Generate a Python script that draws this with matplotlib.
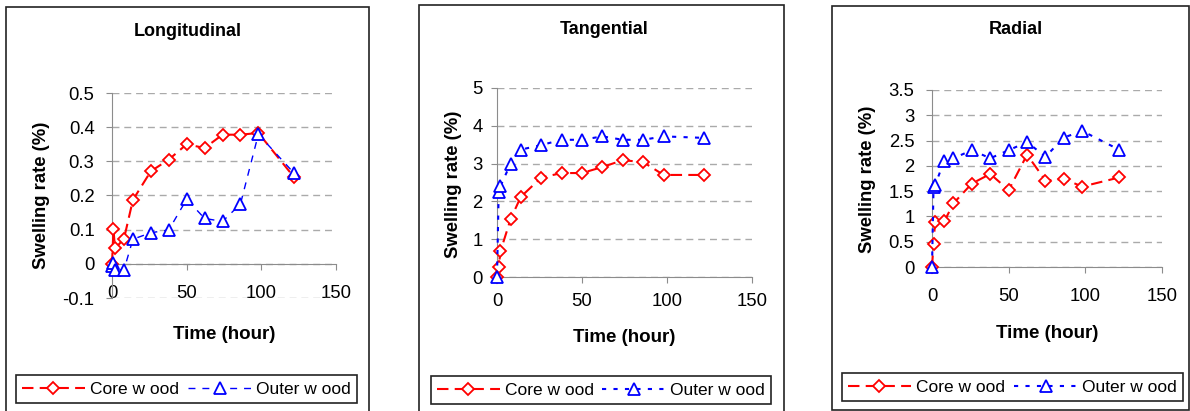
import numpy as np
import matplotlib.pyplot as plt
from matplotlib.patches import Rectangle
from matplotlib.lines import Line2D

plt.rcParams['font.family'] = ['Liberation Sans', 'DejaVu Sans']

# sampling times (hours)
hours = [0, 1, 2, 8, 14, 26, 38, 50, 62, 74, 86, 98, 122]

# swelling rate (%)
long_core = [0, 0.101, 0.045, 0.073, 0.187, 0.271, 0.305, 0.350, 0.339, 0.378, 0.378, 0.383, 0.253]
long_outer = [-0.005, 0.002, -0.018, -0.018, 0.072, 0.091, 0.099, 0.189, 0.133, 0.124, 0.175, 0.379, 0.265]
tang_core = [0, 0.26, 0.675, 1.53, 2.12, 2.63, 2.75, 2.75, 2.91, 3.09, 3.04, 2.70, 2.70]
tang_outer = [0, 2.25, 2.40, 3.00, 3.37, 3.49, 3.63, 3.63, 3.72, 3.63, 3.63, 3.72, 3.68]
rad_core = [0, 0.46, 0.88, 0.90, 1.26, 1.65, 1.84, 1.52, 2.22, 1.71, 1.74, 1.59, 1.77]
rad_outer = [0, 1.58, 1.62, 2.10, 2.15, 2.31, 2.15, 2.31, 2.47, 2.18, 2.56, 2.69, 2.32]

titles = ['Longitudinal', 'Tangential', 'Radial']
series_names = ['Core w ood', 'Outer w ood']
xticks = [0, 50, 100, 150]
yticks_long = [-0.1, 0, 0.1, 0.2, 0.3, 0.4, 0.5]
yticks_tang = [0, 1, 2, 3, 4, 5]
yticks_rad = [0, 0.5, 1, 1.5, 2, 2.5, 3, 3.5]

W, H = 1190, 411
fig = plt.figure(figsize=(W / 100, H / 100), dpi=100)


def rect(l, t, r, b):
    return [l / W, 1 - b / H, (r - l) / W, (b - t) / H]


panels = [
    dict(core=long_core, outer=long_outer, yt=yticks_long, ax=(112, 93, 336, 298),
         frame=(6, 7, 369, 420), title=(188, 32), xlab=(224, 334), ylab=(42, 195),
         leg=(16, 372, 357, 406), outer_ls=(0, (5, 5)), outer_lw=1.0,
         xpad=11, ypad=8.6, zero=True),
    dict(core=tang_core, outer=tang_outer, yt=yticks_tang, ax=(497, 88, 752, 277),
         frame=(419, 5, 784, 420), title=(604, 29), xlab=(624, 337), ylab=(453, 184),
         leg=(431, 373, 771, 407), outer_ls=(0, (2, 3.5)), outer_lw=1.5,
         xpad=7.2, ypad=6.5, zero=False),
    dict(core=rad_core, outer=rad_outer, yt=yticks_rad, ax=(932, 90, 1162, 267),
         frame=(832, 6, 1189, 410), title=(1016, 30), xlab=(1047, 333), ylab=(868, 179),
         leg=(842, 370, 1183, 404), outer_ls=(0, (2, 3.5)), outer_lw=1.5,
         xpad=10.8, ypad=8.6, zero=False),
]

red = '#FF0000'
blue = '#0000FF'
grey = '#8C8C8C'
core_ls = (0, (5.5, 3))

for i, p in enumerate(panels):
    l, t, r, b = p['frame']
    fig.patches.append(Rectangle((l / W, 1 - b / H), (r - l) / W, (b - t) / H,
                                 transform=fig.transFigure, fill=False,
                                 edgecolor='#222222', lw=1.2))

    ax = fig.add_axes(rect(*p['ax']))
    ax.plot(hours, p['core'], color=red, lw=1.5, ls=core_ls, marker='D',
            ms=6, mfc='white', mec=red, mew=1.3, clip_on=False, zorder=3)
    ax.plot(hours, p['outer'], color=blue, lw=p['outer_lw'], ls=p['outer_ls'], marker='^',
            ms=8, mfc='white', mec=blue, mew=1.3, clip_on=False, zorder=4)

    ax.set_xlim(0, 150)
    ax.set_ylim(p['yt'][0], p['yt'][-1])
    ax.set_xticks(xticks)
    ax.set_yticks(p['yt'])
    ax.set_yticklabels(['%g' % v for v in p['yt']])
    for s in ['top', 'right']:
        ax.spines[s].set_visible(False)
    ax.spines['left'].set_color(grey)
    ax.spines['bottom'].set_color(grey)
    if p['zero']:
        ax.spines['bottom'].set_position(('data', 0))
    ax.tick_params(axis='both', direction='out', length=4, color=grey, labelsize=13.3)
    ax.tick_params(axis='x', pad=p['xpad'])
    ax.tick_params(axis='y', pad=p['ypad'])
    ax.grid(axis='y', color='#AAAAAA', ls=(0, (5, 3.5)), lw=1.0)
    ax.set_axisbelow(True)
    ax.patch.set_visible(False)

    fig.text(p['title'][0] / W, 1 - p['title'][1] / H, titles[i], ha='center', va='center',
             fontsize=13, fontweight='bold')
    fig.text(p['xlab'][0] / W, 1 - p['xlab'][1] / H, 'Time (hour)', ha='center', va='center',
             fontsize=13.5, fontweight='bold')
    fig.text(p['ylab'][0] / W, 1 - p['ylab'][1] / H, 'Swelling rate (%)', ha='center',
             va='center', rotation=90, fontsize=13.3, fontweight='bold')

    handles = [
        Line2D([], [], color=red, lw=1.5, ls=core_ls, marker='D', ms=6,
               mfc='white', mec=red, mew=1.3),
        Line2D([], [], color=blue, lw=p['outer_lw'], ls=p['outer_ls'], marker='^', ms=8,
               mfc='white', mec=blue, mew=1.3),
    ]
    ll, lt, lr, lb = p['leg']
    leg = ax.legend(handles, series_names, loc='center',
                    bbox_to_anchor=(ll / W, 1 - lb / H, (lr - ll) / W, (lb - lt) / H),
                    bbox_transform=fig.transFigure, ncol=2, mode='expand',
                    fancybox=False, edgecolor='#222222', framealpha=1, borderaxespad=0,
                    handlelength=3.6, handletextpad=0.3, columnspacing=0.4,
                    fontsize=12.5, numpoints=1, borderpad=0.35)
    leg.get_frame().set_linewidth(1.2)

fig.savefig('out.png', dpi=100)
